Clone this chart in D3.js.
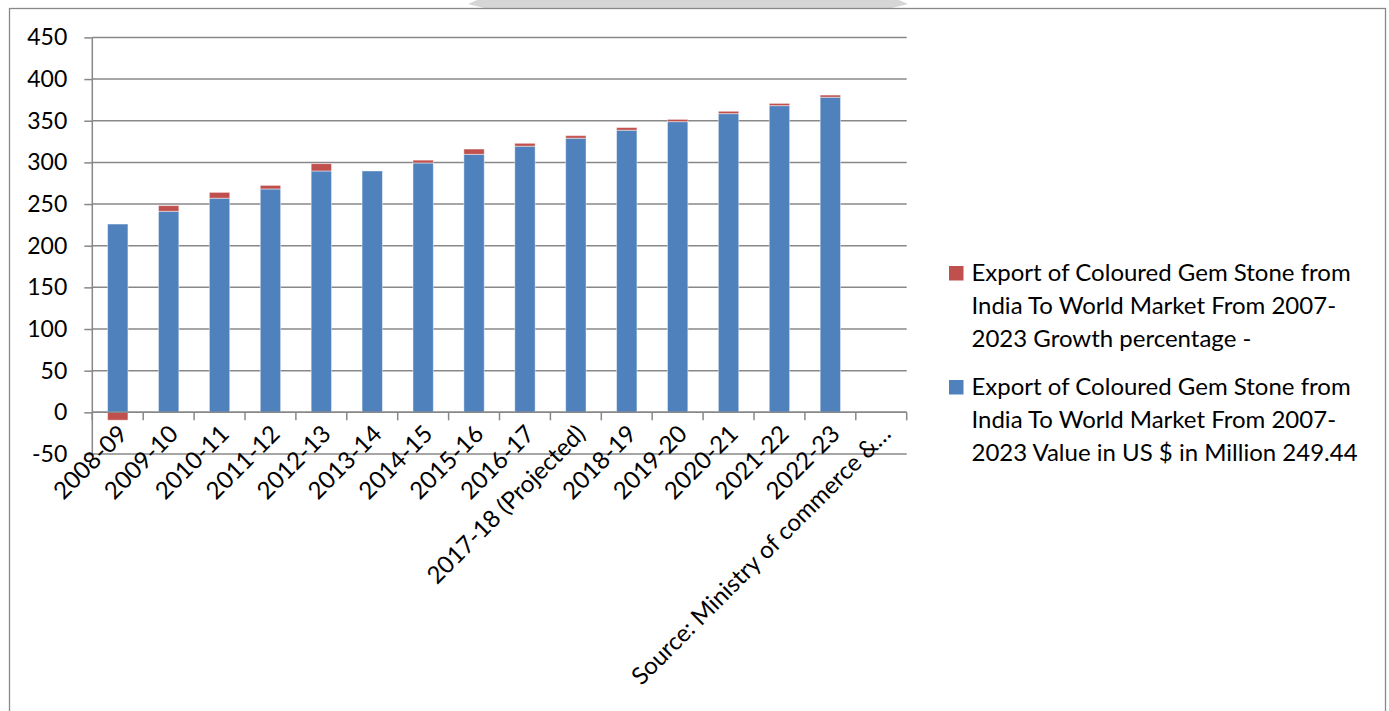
<!DOCTYPE html>
<html>
<head>
<meta charset="utf-8">
<script src="https://cdn.jsdelivr.net/npm/d3@7"></script>
<style>
  html, body { margin: 0; padding: 0; background: #fff; }
  svg { display: block; font-family: Lato, "Open Sans", sans-serif; }
</style>
</head>
<body>
<div id="chartContainer"></div>
<script>
// Categories (financial years) and the two stacked series
const categories = [
  "2008-09", "2009-10", "2010-11", "2011-12", "2012-13", "2013-14", "2014-15",
  "2015-16", "2016-17", "2017-18 (Projected)", "2018-19", "2019-20", "2020-21",
  "2021-22", "2022-23", "Source: Ministry of commerce &\u2026"
];
const valueSeries = [226.0, 241.3, 257.0, 268.1, 289.7, 289.7, 299.3, 309.7, 319.4, 329.0, 338.6, 348.9, 358.5, 368.1, 378.2, 0];
const growthSeries = [-9.4, 6.8, 7.0, 4.3, 8.8, 0, 3.4, 6.3, 3.5, 3.1, 3.2, 2.7, 2.8, 2.7, 2.6, 0];
const yTicks = [-50, 0, 50, 100, 150, 200, 250, 300, 350, 400, 450];

const seriesNames = {
  growth: ["Export of Coloured Gem Stone from", "India To World Market From 2007-", "2023 Growth percentage -"],
  value: ["Export of Coloured Gem Stone from", "India To World Market From 2007-", "2023 Value in US $ in Million 249.44"]
};
const colors = {value: "#4f81bd", growth: "#c0504d"};

const W = 1389, H = 711;
const plot = {left: 92.3, right: 906.7, top: 37.4, bottom: 454};
const gridColor = "#888888";

const svg = d3.select("#chartContainer").append("svg")
  .attr("width", W)
  .attr("height", H);

// Outer chart border and the grey tab along the top edge
svg.append("path")
  .attr("d", "M468,4 L484,-3 L892,-3 L908,4 L892,8 L484,8 Z")
  .attr("fill", "#d6d6d6");
svg.append("rect")
  .attr("x", 9.5).attr("y", 8.5)
  .attr("width", 1376).attr("height", 740)
  .attr("fill", "none")
  .attr("stroke", gridColor)
  .attr("stroke-width", 1.3);

// Scales
const x = d3.scaleBand()
  .domain(categories)
  .range([plot.left, plot.right])
  .paddingInner(0.6)
  .paddingOuter(0.3);

const y = d3.scaleLinear()
  .domain([-50, 450])
  .range([plot.bottom, plot.top]);

// Horizontal gridlines
svg.append("g")
  .selectAll("line")
  .data(yTicks)
  .join("line")
  .attr("x1", plot.left)
  .attr("x2", plot.right)
  .attr("y1", d => y(d))
  .attr("y2", d => y(d))
  .attr("stroke", gridColor)
  .attr("stroke-width", 1.5);

// Y axis (plain hyphen for negatives, like the source)
const yAxis = svg.append("g")
  .attr("transform", `translate(${plot.left} 0)`)
  .call(d3.axisLeft(y).tickValues(yTicks).tickFormat(d => String(d)).tickSize(8).tickPadding(17));
yAxis.select(".domain")
  .attr("stroke", gridColor)
  .attr("stroke-width", 1.5)
  .attr("d", `M0,${plot.top}V${plot.bottom}`);
yAxis.selectAll(".tick line").attr("stroke", gridColor).attr("stroke-width", 1.5);
yAxis.selectAll(".tick text")
  .attr("fill", "#000")
  .style("font-size", "23px")
  .style("font-family", "Lato, sans-serif");

// Stacked bars
const table = categories.map((c, i) => ({cat: c, value: valueSeries[i], growth: growthSeries[i]}));
const stacked = d3.stack()
  .keys(["value", "growth"])
  .offset(d3.stackOffsetDiverging)(table);

svg.append("g")
  .selectAll("g")
  .data(stacked)
  .join("g")
  .attr("fill", d => colors[d.key])
  .selectAll("rect")
  .data(d => d.filter(p => p[1] !== p[0]))
  .join("rect")
  .attr("x", d => x(d.data.cat))
  .attr("width", x.bandwidth())
  .attr("y", d => y(Math.max(d[0], d[1])))
  .attr("height", d => Math.abs(y(d[0]) - y(d[1])))
  .attr("stroke", "rgba(255,255,255,0.45)")
  .attr("stroke-width", 1);

// X axis at zero, with ticks between categories
const step = x.step();
const boundaries = categories.map(c => x(c) - step * x.paddingInner() / 2).concat([plot.right]);
const xAxis = svg.append("g").attr("transform", `translate(0 ${y(0)})`);
xAxis.append("line")
  .attr("x1", plot.left).attr("x2", plot.right)
  .attr("stroke", gridColor).attr("stroke-width", 1.5);
xAxis.selectAll(".bound")
  .data(boundaries)
  .join("line")
  .attr("class", "bound")
  .attr("x1", d => d).attr("x2", d => d)
  .attr("y1", 0).attr("y2", 8)
  .attr("stroke", gridColor).attr("stroke-width", 1.5);

const labelAxis = svg.append("g")
  .attr("transform", `translate(0 ${y(0)})`)
  .call(d3.axisBottom(x).tickSize(0));
labelAxis.select(".domain").remove();
labelAxis.selectAll(".tick text")
  .attr("x", 0).attr("y", 0).attr("dy", 0)
  .attr("text-anchor", "end")
  .attr("transform", "translate(11 23) rotate(-45)")
  .attr("fill", "#000")
  .style("font-size", "24px")
  .style("font-family", "Lato, sans-serif");

// Legend
const legendItems = [
  {key: "growth", top: 266},
  {key: "value", top: 380}
];
const legend = svg.append("g");
legendItems.forEach(item => {
  legend.append("rect")
    .attr("x", 949).attr("y", item.top)
    .attr("width", 14.5).attr("height", 14.5)
    .attr("fill", colors[item.key]);
  const t = legend.append("text")
    .attr("x", 971.5)
    .attr("y", item.top + 15)
    .style("font-size", "24px")
    .attr("fill", "#000");
  seriesNames[item.key].forEach((line, i) => {
    t.append("tspan")
      .attr("x", 971.5)
      .attr("dy", i === 0 ? 0 : 33)
      .text(line);
  });
});
</script>
</body>
</html>
